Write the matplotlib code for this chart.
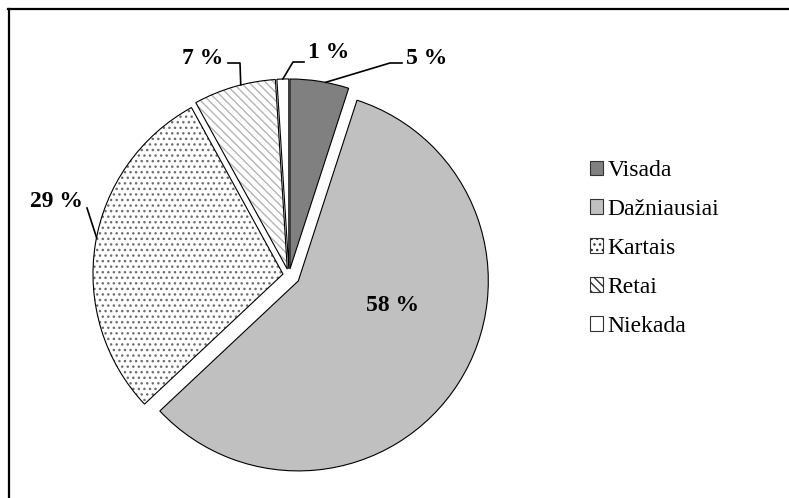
import numpy as np
import matplotlib.pyplot as plt
from matplotlib.lines import Line2D
from matplotlib.patches import Patch

plt.rcParams['font.family'] = ['Liberation Serif', 'DejaVu Serif']
plt.rcParams['hatch.linewidth'] = 1.0

# data
categories = ['Visada', 'Dažniausiai', 'Kartais', 'Retai', 'Niekada']
values = [5, 58, 29, 7, 1]
labels = ['5 %', '58 %', '29 %', '7 %', '1 %']

# styling
face_colors = ['#808080', '#c0c0c0', 'white', 'white', 'white']
hatches = [None, None, '...', '\\\\\\\\', None]
hatch_colors = ['#808080', '#c0c0c0', '#6e6e6e', '#b4b4b4', 'white']
explode = [0.032, 0.058, 0.032, 0.032, 0.032]

W, H = 789, 498
fig = plt.figure(figsize=(W / 100, H / 100), dpi=100)
R = 190.0          # pie radius in pixels
cx, cy = 289, 275  # pie centre in pixels (from top-left)
ax_l, ax_w = cx - 260, 520
ax_b, ax_h = (H - cy) - 250, 500
ax = fig.add_axes([ax_l / W, ax_b / H, ax_w / W, ax_h / H])

# fill layer (hatch colour comes from the edge colour)
fills, _ = ax.pie(values, colors=face_colors, explode=explode, startangle=90,
                  counterclock=False, radius=1.0, normalize=True,
                  wedgeprops=dict(linewidth=0))
for w, h, hc in zip(fills, hatches, hatch_colors):
    w.set_edgecolor(hc)
    if h:
        w.set_hatch(h)

# outline layer
outlines, _ = ax.pie(values, explode=explode, startangle=90,
                     counterclock=False, radius=1.0, normalize=True,
                     wedgeprops=dict(fill=False, edgecolor='black', linewidth=0.8))

ax.set_xlim(-260 / R, 260 / R)
ax.set_ylim(-250 / R, 250 / R)
ax.axis('off')


def px(x, y):
    return (x - cx) / R, (cy - y) / R


def anchor(w, frac=0.5):
    th = np.deg2rad(w.theta1 + frac * (w.theta2 - w.theta1))
    x0, y0 = w.center
    return x0 + w.r * np.cos(th), y0 + w.r * np.sin(th)


lab_font = dict(fontsize=17, fontweight='bold', ha='center', va='center')

# 5 %
a = anchor(outlines[0], 0.4)
e1, e2 = px(390, 63), px(402, 63)
ax.plot([a[0], e1[0], e2[0]], [a[1], e1[1], e2[1]], color='black', lw=1.2)
ax.text(*px(427, 58), labels[0], **lab_font)

# 58 %
ax.text(*px(393, 305), labels[1], **lab_font)

# 29 %
a = anchor(outlines[2], 0.48)
e1 = px(87, 208)
ax.plot([a[0], e1[0]], [a[1], e1[1]], color='black', lw=1.2)
ax.text(*px(56, 201), labels[2], **lab_font)

# 7 %
a = anchor(outlines[3], 0.42)
e1, e2 = px(240, 63), px(228, 63)
ax.plot([a[0], e1[0], e2[0]], [a[1], e1[1], e2[1]], color='black', lw=1.2)
ax.text(*px(203, 58), labels[3], **lab_font)

# 1 %
a = anchor(outlines[4])
e1, e2 = px(293, 62), px(304, 62)
ax.plot([a[0], e1[0], e2[0]], [a[1], e1[1], e2[1]], color='black', lw=1.2)
ax.text(*px(329, 52), labels[4], **lab_font)

# legend
handles = [Patch(facecolor=fc, edgecolor='#333333', hatch=h, linewidth=0.8)
           for fc, h in zip(face_colors, hatches)]
fig.legend(handles, categories, loc='upper left',
           bbox_to_anchor=(590 / W, 1 - 160 / H), frameon=False,
           fontsize=17, handlelength=0.55, handleheight=0.55,
           handletextpad=0.2, labelspacing=0.76, borderpad=0, borderaxespad=0)

# chart frame (top and left edges)
fig.add_artist(Line2D([8 / W, 1], [1 - 9.5 / H, 1 - 9.5 / H], color='black', lw=1.6))
fig.add_artist(Line2D([8.5 / W, 8.5 / W], [0, 1 - 9.5 / H], color='black', lw=1.6))

fig.savefig('out.png', dpi=100)
